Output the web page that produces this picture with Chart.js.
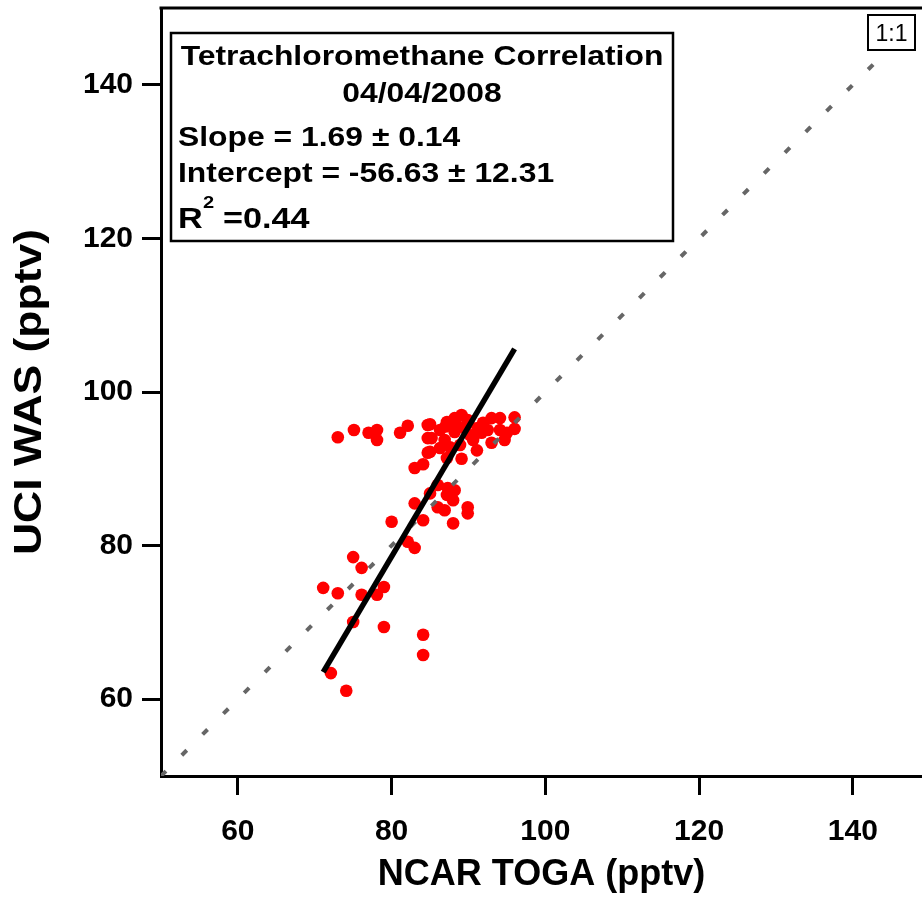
<!DOCTYPE html>
<html>
<head>
<meta charset="utf-8">
<script src="https://cdn.jsdelivr.net/npm/chart.js@4.4.0/dist/chart.umd.min.js"></script>
<style>
  html, body { margin: 0; padding: 0; background: #fff; }
  #wrap { width: 922px; height: 901px; }
</style>
</head>
<body>
<div id="wrap"><canvas id="grafico" width="922" height="901"></canvas></div>
<script>
// Dados (pptv)
const togaX = [73.0, 75.1, 77.0, 78.1, 78.1, 81.1, 82.1, 84.7, 84.7, 84.7, 83.0, 84.1,
  85.0, 85.2, 85.0, 87.2, 89.1, 88.0, 89.1, 87.2, 91.1, 90.6, 91.9, 93.0, 94.1, 93.0, 95.0, 96.0,
  96.0, 94.1, 91.7, 86.3, 86.9, 88.2, 89.5, 90.2, 88.9, 87.6, 86.3, 91.2, 92.5, 94.7, 88.2, 89.9,
  87.0, 88.5, 90.0,
  86.0, 87.3, 88.2, 87.2, 88.0, 86.0, 86.9, 83.0, 85.0, 89.9, 89.9, 88.0, 84.1, 80.0, 82.1, 83.0,
  75.0, 76.1, 71.1, 73.0, 76.1, 78.1, 79.0, 75.0, 79.0, 84.1, 84.1, 72.1, 74.1];
const wasY = [94.1, 95.05, 94.7, 95.05, 93.75, 94.7, 95.6, 95.7, 94.0, 92.1, 90.1, 90.6,
  95.8, 94.0, 92.2, 96.1, 97.0, 96.0, 91.3, 91.4, 92.4, 93.75, 96.0, 96.6, 96.6, 93.4, 94.7, 96.7,
  95.2, 95.05, 94.7, 95.05, 93.75, 94.8, 95.3, 94.4, 93.1, 92.8, 92.7, 95.3, 95.05, 93.75, 96.6, 96.35,
  95.5, 95.6, 96.0,
  87.9, 87.5, 87.2, 86.6, 85.9, 85.0, 84.6, 85.5, 86.8, 85.0, 84.2, 82.9, 83.3, 83.1, 80.5, 79.7,
  78.5, 77.1, 74.5, 73.8, 73.6, 73.6, 74.6, 70.05, 69.4, 68.4, 65.75, 63.4, 61.1];

const fitSlope = 1.69;
const fitIntercept = -56.63;
const fitRange = [71.1, 96.0];
const oneToOne = [50, 150];
const xTicks = [60, 80, 100, 120, 140];
const yTicks = [60, 80, 100, 120, 140];
const boxTitle = ['Tetrachloromethane Correlation', '04/04/2008'];
const boxStats = ['Slope = 1.69 \u00b1 0.14', 'Intercept = -56.63 \u00b1 12.31'];
const r2Text = '=0.44';
const yTitle = 'UCI WAS (pptv)';

const FONTE = '"Liberation Sans", Arial, Helvetica, sans-serif';

function textoEsticado(ctx, txt, x, y, align, sx) {
  ctx.save();
  ctx.translate(x, y);
  ctx.scale(sx, 1);
  ctx.textAlign = align;
  ctx.fillText(txt, 0, 0);
  ctx.restore();
}

// moldura de cima, título do eixo y e caixas de texto
const caixas = {
  id: 'caixas',
  afterDraw(chart) {
    const ctx = chart.ctx;
    const a = chart.chartArea;
    ctx.save();
    ctx.strokeStyle = '#000';
    ctx.lineWidth = 3;
    ctx.beginPath();
    ctx.moveTo(a.left - 1.5, a.top);
    ctx.lineTo(chart.width, a.top);
    ctx.stroke();

    // título do eixo y (esticado como no original)
    ctx.fillStyle = '#000';
    ctx.font = 'bold 38px ' + FONTE;
    ctx.textBaseline = 'middle';
    ctx.save();
    ctx.translate(31, (a.top + a.bottom) / 2);
    ctx.rotate(-Math.PI / 2);
    ctx.scale(1.17, 1);
    ctx.textAlign = 'center';
    ctx.fillText(yTitle, 0, 0);
    ctx.restore();

    // caixa de estatísticas
    const bx = a.left + 10, by = a.top + 25, bw = 502, bh = 208;
    ctx.fillStyle = '#fff';
    ctx.fillRect(bx, by, bw, bh);
    ctx.lineWidth = 2.5;
    ctx.strokeRect(bx, by, bw, bh);
    ctx.fillStyle = '#000';
    ctx.textBaseline = 'alphabetic';
    ctx.font = 'bold 27px ' + FONTE;
    const sx = 1.18;
    textoEsticado(ctx, boxTitle[0], bx + bw / 2, by + 32, 'center', sx);
    textoEsticado(ctx, boxTitle[1], bx + bw / 2, by + 69, 'center', sx);
    textoEsticado(ctx, boxStats[0], bx + 7, by + 113, 'left', sx);
    textoEsticado(ctx, boxStats[1], bx + 7, by + 149, 'left', sx);
    ctx.font = 'bold 29px ' + FONTE;
    textoEsticado(ctx, 'R', bx + 7, by + 195, 'left', sx);
    ctx.font = 'bold 17px ' + FONTE;
    textoEsticado(ctx, '2', bx + 32, by + 175, 'left', sx);
    ctx.font = 'bold 29px ' + FONTE;
    textoEsticado(ctx, r2Text, bx + 52, by + 195, 'left', sx);

    // caixa 1:1
    const ux = 868, uy = a.top + 7, uw = 47, uh = 35;
    ctx.fillStyle = '#fff';
    ctx.fillRect(ux, uy, uw, uh);
    ctx.lineWidth = 2;
    ctx.strokeRect(ux, uy, uw, uh);
    ctx.fillStyle = '#000';
    ctx.font = '23px ' + FONTE;
    ctx.textAlign = 'center';
    ctx.fillText('1:1', ux + uw / 2, uy + 26);
    ctx.restore();
  }
};

const pontos = togaX.map((x, i) => ({ x: x, y: wasY[i] }));
const linhaAjuste = fitRange.map(x => ({ x: x, y: fitSlope * x + fitIntercept }));
const linhaUm = oneToOne.map(v => ({ x: v, y: v }));

const eixo = (ticksArr, extra) => Object.assign({
  type: 'linear',
  afterBuildTicks: s => { s.ticks = ticksArr.map(v => ({ value: v })); },
  grid: { drawOnChartArea: false, drawTicks: true, tickLength: 19, lineWidth: 3, color: '#000' },
  border: { display: true, width: 3, color: '#000' },
}, extra);

new Chart(document.getElementById('grafico').getContext('2d'), {
  data: {
    datasets: [
      {
        type: 'line',
        label: 'Ajuste',
        data: linhaAjuste,
        borderColor: '#000',
        borderWidth: 5.5,
        pointRadius: 0,
        order: 0
      },
      {
        type: 'line',
        label: '1:1',
        data: linhaUm,
        borderColor: '#666666',
        borderWidth: 4,
        borderDash: [7, 22.4],
        pointRadius: 0,
        order: 1
      },
      {
        type: 'scatter',
        label: 'CCl4',
        data: pontos,
        backgroundColor: '#ff0000',
        borderWidth: 0,
        pointRadius: 6.3,
        order: 2
      }
    ]
  },
  options: {
    responsive: false,
    animation: false,
    devicePixelRatio: 1,
    layout: { autoPadding: false, padding: { top: 8, right: 0, left: 0, bottom: 0 } },
    plugins: { legend: { display: false }, tooltip: { enabled: false } },
    scales: {
      x: eixo(xTicks, {
        min: 50, max: 149,
        afterFit: s => { s.height = 125; s.paddingLeft = 0; s.paddingRight = 0; },
        ticks: { color: '#000', padding: 19, maxRotation: 0, font: { family: FONTE, weight: 'bold', size: 30 } },
        title: { display: true, text: 'NCAR TOGA (pptv)', color: '#000', padding: { top: 0, bottom: 4 },
          font: { family: FONTE, weight: 'bold', size: 36 } }
      }),
      y: eixo(yTicks, {
        min: 50, max: 150,
        afterFit: s => { s.width = 161; s.paddingTop = 0; s.paddingBottom = 0; },
        ticks: { color: '#000', padding: 9, font: { family: FONTE, weight: 'bold', size: 30 } },
        title: { display: false }
      })
    }
  },
  plugins: [caixas]
});
</script>
</body>
</html>
